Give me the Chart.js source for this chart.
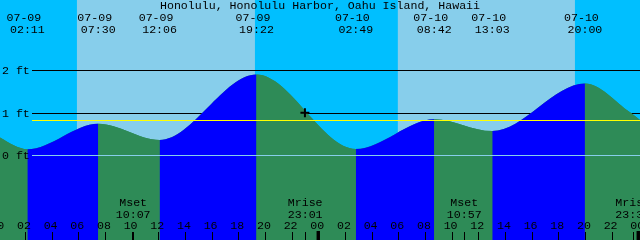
<!DOCTYPE html>
<html>
<head>
<meta charset="utf-8">
<script src="https://cdn.jsdelivr.net/npm/chart.js@4"></script>
<style>
  html, body { margin: 0; padding: 0; background: #00bfff; }
  #wrap { width: 640px; height: 240px; }
</style>
</head>
<body>
<div id="wrap"><canvas id="tide"></canvas></div>
<script>
// Station and the 48 hours shown (hours counted from 07-09 00:00)
const title = "Honolulu, Honolulu Harbor, Oahu Island, Hawaii";
const viewStart = 0.13;
const viewEnd = 48.13;

// Tide curve readings (hours, feet), highs and lows plus the two edges
const tideTimes = [0.13, 1.2, 2.183, 7.5, 12.1, 19.367, 26.817, 32.7, 37.05, 44.0, 47.38, 48.13];
const tideHeights = [0.42, 0.23, 0.14, 0.74, 0.36, 1.90, 0.15, 0.85, 0.57, 1.69, 1.01, 0.83];

// Labels printed above each high / low
const eventDates = ["07-09", "07-09", "07-09", "07-09", "07-10", "07-10", "07-10", "07-10"];
const eventClock = ["02:11", "07:30", "12:06", "19:22", "02:49", "08:42", "13:03", "20:00"];

// Moon events along the bottom
const moonDates = ["07-09", "07-09", "07-10", "07-10"];
const moonKinds = ["Mset", "Mrise", "Mset", "Mrise"];
const moonClock = ["10:07", "23:01", "10:57", "23:35"];

// Daylight
const sunriseDates = ["07-09", "07-10"];
const sunriseClock = ["05:54", "05:58"];
const sunsetClock = ["19:15", "19:15"];

// Axis ticks
const levelTicks = [0, 1, 2];
const levelLabels = ["0 ft", "1 ft", "2 ft"];
const hourTicks = [0, 2, 4, 6, 8, 10, 12, 14, 16, 18, 20, 22, 24, 26, 28, 30, 32, 34, 36, 38, 40, 42, 44, 46, 48];
const meanLevel = 0.82;

// "now" marker
const markDate = "07-09";
const markClock = "23:00";
const markHeight = 1.0;

const nightColor = "#00bfff";
const dayColor = "#87ceeb";
const riseColor = "#0000ff";
const fallColor = "#2e8b57";
const font = '11.6px "Liberation Mono", "DejaVu Sans Mono", monospace';

const toHours = (date, clock) => {
    const day = parseInt(date.slice(3), 10) - 9;
    const [h, m] = clock.split(":").map(Number);
    return day * 24 + h + m / 60;
};

const tidePoints = tideTimes.map((t, i) => ({ x: t, y: tideHeights[i] }));

const skyPlugin = {
    id: "sky",
    beforeDatasetsDraw(chart) {
        const { ctx, chartArea: a, scales: { x, y } } = chart;
        ctx.save();
        ctx.fillStyle = nightColor;
        ctx.fillRect(a.left, a.top, a.width, a.height);
        ctx.fillStyle = dayColor;
        for (let i = 0; i < sunriseDates.length; i++) {
            const x0 = x.getPixelForValue(toHours(sunriseDates[i], sunriseClock[i]));
            const x1 = x.getPixelForValue(toHours(sunriseDates[i], sunsetClock[i]));
            ctx.fillRect(x0, a.top, x1 - x0, a.height);
        }
        // level lines that sit behind the water
        ctx.strokeStyle = "#000";
        ctx.lineWidth = 1;
        for (const v of levelTicks) {
            if (v === 0) continue;
            const py = Math.round(y.getPixelForValue(v)) + 0.5;
            ctx.beginPath();
            ctx.moveTo(32, py);
            ctx.lineTo(a.right, py);
            ctx.stroke();
        }
        ctx.restore();
    },
    afterDatasetsDraw(chart) {
        const { ctx, chartArea: a, scales: { x, y } } = chart;
        ctx.save();
        ctx.lineWidth = 1;

        // zero line and mean level drawn over the water
        let py = Math.round(y.getPixelForValue(0)) + 0.5;
        ctx.strokeStyle = "#87ceeb";
        ctx.beginPath(); ctx.moveTo(32, py); ctx.lineTo(a.right, py); ctx.stroke();
        py = Math.round(y.getPixelForValue(meanLevel)) + 0.5;
        ctx.strokeStyle = "#ffff00";
        ctx.beginPath(); ctx.moveTo(32, py); ctx.lineTo(a.right, py); ctx.stroke();

        ctx.fillStyle = "#000";
        ctx.font = font;
        ctx.textBaseline = "alphabetic";

        ctx.textAlign = "left";
        levelTicks.forEach((v, i) => {
            ctx.fillText(levelLabels[i], 2, y.getPixelForValue(v) + 3.8);
        });

        ctx.textAlign = "center";
        ctx.fillText(title, 320, 9.3);

        eventClock.forEach((c, i) => {
            const px = x.getPixelForValue(toHours(eventDates[i], c));
            ctx.fillText(eventDates[i], px - 3.5, 20.7);
            ctx.fillText(c, px, 33.3);
        });

        moonClock.forEach((c, i) => {
            const px = x.getPixelForValue(toHours(moonDates[i], c));
            ctx.fillText(moonKinds[i], px, 206);
            ctx.fillText(c, px, 217.7);
            ctx.fillRect(Math.round(px), 232, 1, 8);
        });

        hourTicks.forEach((h) => {
            const px = x.getPixelForValue(h);
            ctx.fillText(String(h % 24).padStart(2, "0"), px - 1, 229.3);
            if (h % 24 === 0) {
                ctx.fillRect(px - 1.7, 231, 3.4, 9);
            } else {
                ctx.fillRect(Math.round(px), 232, 1, 8);
            }
        });
        ctx.restore();
    },
};

new Chart(document.getElementById("tide"), {
    type: "line",
    data: {
        datasets: [
            {
                data: [{ x: toHours(markDate, markClock), y: markHeight }],
                showLine: false,
                pointStyle: "cross",
                pointRadius: 4.5,
                borderWidth: 2,
                borderColor: "#000",
                order: 0,
            },
            {
                // rising water blue, falling water green
                data: tidePoints,
                cubicInterpolationMode: "monotone",
                pointRadius: 0,
                borderWidth: 0,
                borderColor: "rgba(0,0,0,0)",
                fill: "start",
                backgroundColor: riseColor,
                segment: {
                    backgroundColor: (c) => (c.p1.parsed.y > c.p0.parsed.y ? riseColor : fallColor),
                },
                order: 1,
            },
            {
                // plain underlay so the seams between segments don't show sky
                data: tidePoints,
                cubicInterpolationMode: "monotone",
                pointRadius: 0,
                borderWidth: 0,
                borderColor: "rgba(0,0,0,0)",
                fill: "start",
                backgroundColor: fallColor,
                order: 2,
            },
        ],
    },
    options: {
        responsive: true,
        maintainAspectRatio: false,
        animation: false,
        layout: { padding: 0, autoPadding: false },
        plugins: { legend: { display: false }, tooltip: { enabled: false } },
        scales: {
            x: { type: "linear", min: viewStart, max: viewEnd, display: false },
            y: { min: -1.993, max: 3.654, display: false },
        },
    },
    plugins: [skyPlugin],
});
</script>
</body>
</html>
